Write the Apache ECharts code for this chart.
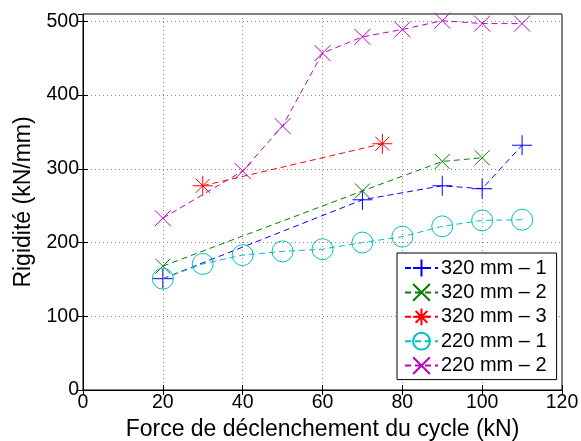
<!DOCTYPE html>
<html>
<head>
<meta charset="utf-8">
<script src="https://cdn.jsdelivr.net/npm/echarts@6/dist/echarts.min.js"></script>
<style>html,body{margin:0;padding:0;background:#fff;}#c{width:581px;height:441px;}</style>
</head>
<body>
<div id="c"></div>
<script>
const xTicks = [0, 20, 40, 60, 80, 100, 120];
const yTicks = [0, 100, 200, 300, 400, 500];
const seriesNames = ['320 mm \u2013 1', '320 mm \u2013 2', '320 mm \u2013 3', '220 mm \u2013 1', '220 mm \u2013 2'];
const s320_1_x = [20, 70, 90, 100, 110];
const s320_1_y = [151, 258, 277, 273, 332];
const s320_2_x = [20, 70, 90, 100];
const s320_2_y = [168, 270, 310, 315];
const s320_3_x = [30, 75];
const s320_3_y = [277, 334];
const s220_1_x = [20, 30, 40, 50, 60, 70, 80, 90, 100, 110];
const s220_1_y = [151, 171, 183, 188, 191, 200, 208, 222, 230, 231];
const s220_2_x = [20, 40, 50, 60, 70, 80, 90, 100, 110];
const s220_2_y = [233, 297, 358, 457, 479, 489, 501, 497, 497];

const colors = ['#0000ff', '#008000', '#ff0000', '#00bfbf', '#bf00bf'];
const PLUS = 'path://M0,-10L0,10M-10,0L10,0';
const CROSS = 'path://M-10,-10L10,10M-10,10L10,-10';
const STAR = 'path://M0,-10L0,10M-10,0L10,0M-7,-7L7,7M-7,7L7,-7';
const symbols = [PLUS, CROSS, STAR, 'circle', CROSS];
const sizes = [20, 15, 20, 21, 16];
const xs = [s320_1_x, s320_2_x, s320_3_x, s220_1_x, s220_2_x];
const ys = [s320_1_y, s320_2_y, s320_3_y, s220_1_y, s220_2_y];

const font = '"Liberation Sans", Arial, Helvetica, sans-serif';
const series = seriesNames.map((n, i) => ({
  name: n,
  type: 'line',
  data: xs[i].map((x, k) => [x, ys[i][k]]),
  symbol: symbols[i],
  symbolSize: sizes[i],
  lineStyle: { color: colors[i], width: 1, type: [6, 4] },
  itemStyle: { color: 'rgba(0,0,0,0)', borderColor: colors[i], borderWidth: 1 },
  emphasis: { disabled: true },
  animation: false,
  z: 2 + i
}));

const chart = echarts.init(document.getElementById('c'), null, { renderer: 'canvas' });
chart.setOption({
  animation: false,
  color: colors,
  textStyle: { fontFamily: font },
  grid: { left: 83, right: 19, top: 14, bottom: 51, show: true, borderColor: '#000', borderWidth: 1,
    backgroundColor: 'transparent', containLabel: false, outerBoundsMode: 'none' },
  legend: {
    orient: 'vertical',
    left: 397, top: 253,
    padding: [5, 10, 4, 7],
    itemGap: 4.4,
    itemWidth: 33, itemHeight: 21,
    backgroundColor: '#fff',
    borderColor: '#000', borderWidth: 1,
    textStyle: { fontFamily: font, fontSize: 20, color: '#000', padding: [0, 0, 0, -2] },
    data: seriesNames
  },
  xAxis: [{
    type: 'value', min: xTicks[0], max: xTicks[xTicks.length - 1], interval: 20,
    name: 'Force de d\u00e9clenchement du cycle (kN)', nameLocation: 'middle', nameGap: 27,
    nameTextStyle: { fontFamily: font, fontSize: 23, color: '#000' },
    axisLine: { lineStyle: { color: '#000' } },
    axisTick: { inside: true, length: 5, lineStyle: { color: '#000' } },
    axisLabel: { fontFamily: font, fontSize: 19.5, color: '#000', margin: 3 },
    splitLine: { show: true, lineStyle: { color: '#888', type: [1, 3] } }
  }, {
    type: 'value', position: 'top', min: xTicks[0], max: xTicks[xTicks.length - 1], interval: 20,
    axisLine: { show: false },
    axisTick: { inside: true, length: 5, lineStyle: { color: '#000' } },
    axisLabel: { show: false }, splitLine: { show: false }
  }],
  yAxis: [{
    type: 'value', min: yTicks[0], max: 510, interval: 100,
    name: 'Rigidit\u00e9 (kN/mm)', nameLocation: 'middle', nameGap: 45,
    nameTextStyle: { fontFamily: font, fontSize: 23, color: '#000' },
    axisLine: { show: true, lineStyle: { color: '#000' } },
    axisTick: { inside: true, length: 5, lineStyle: { color: '#000' } },
    axisLabel: { fontFamily: font, fontSize: 19.5, color: '#000', margin: 4, showMaxLabel: false,
      formatter: v => (yTicks.indexOf(v) >= 0 ? String(v) : '') },
    splitLine: { show: true, lineStyle: { color: '#888', type: [1, 3] } }
  }, {
    type: 'value', position: 'right', min: yTicks[0], max: 510, interval: 100,
    axisLine: { show: false },
    axisTick: { inside: true, length: 5, lineStyle: { color: '#000' } },
    axisLabel: { show: false }, splitLine: { show: false }
  }],
  series: series
});
</script>
</body>
</html>
